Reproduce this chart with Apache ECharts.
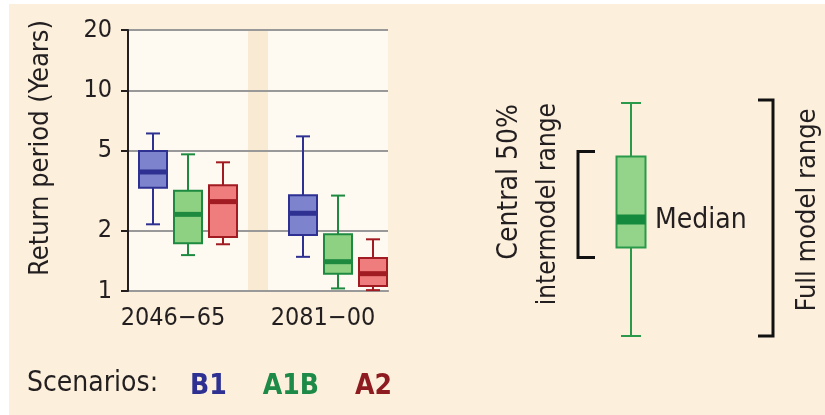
<!DOCTYPE html>
<html>
<head>
<meta charset="utf-8">
<script src="https://cdn.jsdelivr.net/npm/echarts@6/dist/echarts.min.js"></script>
<style>
html, body { margin: 0; padding: 0; background: #fff; }
#main { width: 825px; height: 415px; }
</style>
</head>
<body>
<div id="main"></div>
<script>
// periods on the x axis and where each group of boxes sits
var periods = ['2046\u221265', '2081\u221200'];
var periodPos = [3, 10.5];
var scenarios = ['B1', 'A1B', 'A2'];
// [min, q1, median, q3, max] per period
var b1 = [[2.15, 3.27, 3.92, 4.99, 6.1], [1.48, 1.90, 2.44, 3.0, 5.9]];
var a1b = [[1.51, 1.73, 2.41, 3.16, 4.8], [1.03, 1.22, 1.40, 1.92, 2.99]];
var a2 = [[1.71, 1.86, 2.79, 3.37, 4.38], [1.01, 1.06, 1.22, 1.46, 1.81]];
var yTicks = [1, 2, 5, 10, 20];
// example box for the key: [min, q1, median, q3, max]
var keyBox = [0, 3.8, 5, 7.7, 10];

var font = "'Liberation Sans Narrow', 'Arial Narrow', 'DejaVu Sans Condensed', sans-serif";
var txt = '#231f20';
var colors = [
    { fill: '#7d83cc', line: '#2e3192' },
    { fill: '#8fd183', line: '#1d8a40' },
    { fill: '#f07d7d', line: '#a11b22' }
];
var logTicks = yTicks.map(function (v) { return Math.log10(v); });

function toData(arr) {
    return arr.map(function (b, i) {
        return [periodPos[i]].concat(b.map(function (v) { return Math.log10(v); }));
    });
}

function renderBox(params, api) {
    var c = colors[params.seriesIndex];
    var cx = api.coord([api.value(0), 0])[0] + (params.seriesIndex - 1) * 35;
    var y = [1, 2, 3, 4, 5].map(function (d) { return api.coord([0, api.value(d)])[1]; });
    var bw = 28, cw = 14;
    var ls = { stroke: c.line, lineWidth: 2 };
    return {
        type: 'group',
        children: [
            { type: 'line', shape: { x1: cx, y1: y[0], x2: cx, y2: y[4] }, style: ls },
            { type: 'line', shape: { x1: cx - cw / 2, y1: y[0], x2: cx + cw / 2, y2: y[0] }, style: ls },
            { type: 'line', shape: { x1: cx - cw / 2, y1: y[4], x2: cx + cw / 2, y2: y[4] }, style: ls },
            { type: 'rect', shape: { x: cx - bw / 2, y: y[3], width: bw, height: y[1] - y[3] },
              style: { fill: c.fill, stroke: c.line, lineWidth: 2 } },
            { type: 'line', shape: { x1: cx - bw / 2 + 1, y1: y[2], x2: cx + bw / 2 - 1, y2: y[2] },
              style: { stroke: c.line, lineWidth: 5 } }
        ]
    };
}

function renderKey(params, api) {
    var cx = api.coord([api.value(0), 0])[0];
    var y = [1, 2, 3, 4, 5].map(function (d) { return api.coord([0, api.value(d)])[1]; });
    var ls = { stroke: '#2a9a4a', lineWidth: 2 };
    var bs = { stroke: '#111', lineWidth: 3, fill: null };
    var lx = cx - 53, rx = cx + 142;
    return {
        type: 'group',
        children: [
            { type: 'line', shape: { x1: cx, y1: y[0], x2: cx, y2: y[4] }, style: ls },
            { type: 'line', shape: { x1: cx - 10, y1: y[0], x2: cx + 10, y2: y[0] }, style: ls },
            { type: 'line', shape: { x1: cx - 10, y1: y[4], x2: cx + 10, y2: y[4] }, style: ls },
            { type: 'rect', shape: { x: cx - 14.5, y: y[3], width: 29, height: y[1] - y[3] },
              style: { fill: '#93d48a', stroke: '#2a9a4a', lineWidth: 2 } },
            { type: 'rect', shape: { x: cx - 14.5, y: y[2] - 5, width: 29, height: 10 },
              style: { fill: '#138a3e' } },
            { type: 'text', x: cx + 24, y: y[2] + 1,
              style: { text: 'Median', font: '28px ' + font, fill: txt, verticalAlign: 'middle' } },
            { type: 'polyline', shape: { points: [[lx + 17, y[3] - 5], [lx, y[3] - 5], [lx, y[1] + 10], [lx + 17, y[1] + 10]] }, style: bs },
            { type: 'polyline', shape: { points: [[rx - 15, y[4] - 3], [rx, y[4] - 3], [rx, y[0]], [rx - 15, y[0]]] }, style: bs }
        ]
    };
}

var myChart = echarts.init(document.getElementById('main'));

var option = {
    backgroundColor: '#fcf0dc',
    animation: false,
    textStyle: { fontFamily: font },
    grid: [
        { left: 128, top: 30, width: 260, height: 261 },
        { left: 600, top: 103, width: 62, height: 233 }
    ],
    legend: {
        left: 180, top: 368,
        icon: 'none', itemWidth: 0, itemHeight: 0, itemGap: 31,
        selectedMode: false,
        textStyle: { fontSize: 28, fontWeight: 'bold', fontFamily: font },
        data: [
            { name: 'B1', textStyle: { color: '#2e3192' } },
            { name: 'A1B', textStyle: { color: '#1e8a47' } },
            { name: 'A2', textStyle: { color: '#8e1b1f' } }
        ]
    },
    xAxis: [
        {
            type: 'value', min: 0, max: 13, gridIndex: 0,
            axisLine: { show: true, lineStyle: { color: '#8c8c8c', width: 2 } },
            axisTick: { show: false, customValues: [0, 6, 7, 13] },
            splitLine: { show: false },
            splitArea: { show: true, areaStyle: { color: ['#fffaf1', '#f8ead3'] } },
            axisLabel: {
                customValues: periodPos,
                formatter: function (v) { return periods[periodPos.indexOf(v)]; },
                fontSize: 25, color: txt, margin: 15, padding: [0, 30, 0, 0]
            }
        },
        { type: 'value', min: -1, max: 1, gridIndex: 1, show: false }
    ],
    yAxis: [
        {
            type: 'value', min: 0, max: Math.log10(20), gridIndex: 0, z: 1,
            axisLine: { show: true, lineStyle: { color: txt, width: 2 } },
            axisTick: { show: true, length: 7, lineStyle: { color: txt, width: 2 }, customValues: logTicks },
            axisLabel: {
                customValues: logTicks,
                formatter: function (v) { return Math.round(Math.pow(10, v)); },
                fontSize: 25, color: txt, margin: 16
            },
            splitLine: { show: true, lineStyle: { color: '#999', width: 2 } }
        },
        { type: 'value', min: 0, max: 10, gridIndex: 1, show: false }
    ],
    graphic: [
        { type: 'rect', left: 0, top: 0, shape: { width: 9, height: 415 }, style: { fill: '#fff' } },
        { type: 'rect', left: 0, top: 0, shape: { width: 825, height: 4 }, style: { fill: '#fff' } },
        { type: 'text', x: 41, y: 148, rotation: Math.PI / 2,
          style: { text: 'Return period (Years)', font: '27px ' + font, fill: txt, align: 'center', verticalAlign: 'middle' } },
        { type: 'text', x: 27, y: 384,
          style: { text: 'Scenarios:', font: '28px ' + font, fill: txt, verticalAlign: 'middle' } },
        { type: 'text', x: 510, y: 104, rotation: Math.PI / 2,
          style: { text: 'Central 50%', font: '28px ' + font, fill: txt, align: 'right', verticalAlign: 'middle' } },
        { type: 'text', x: 548, y: 103, rotation: Math.PI / 2,
          style: { text: 'intermodel range', font: '26px ' + font, fill: txt, align: 'right', verticalAlign: 'middle' } },
        { type: 'text', x: 808, y: 210, rotation: Math.PI / 2,
          style: { text: 'Full model range', font: '27px ' + font, fill: txt, align: 'center', verticalAlign: 'middle' } }
    ],
    series: [
        { name: scenarios[0], type: 'custom', renderItem: renderBox, data: toData(b1), encode: { x: 0, y: [1, 2, 3, 4, 5] } },
        { name: scenarios[1], type: 'custom', renderItem: renderBox, data: toData(a1b), encode: { x: 0, y: [1, 2, 3, 4, 5] } },
        { name: scenarios[2], type: 'custom', renderItem: renderBox, data: toData(a2), encode: { x: 0, y: [1, 2, 3, 4, 5] } },
        { name: 'key', type: 'custom', renderItem: renderKey, xAxisIndex: 1, yAxisIndex: 1,
          data: [[0].concat(keyBox)], encode: { x: 0, y: [1, 2, 3, 4, 5] } }
    ]
};

myChart.setOption(option);
</script>
</body>
</html>
